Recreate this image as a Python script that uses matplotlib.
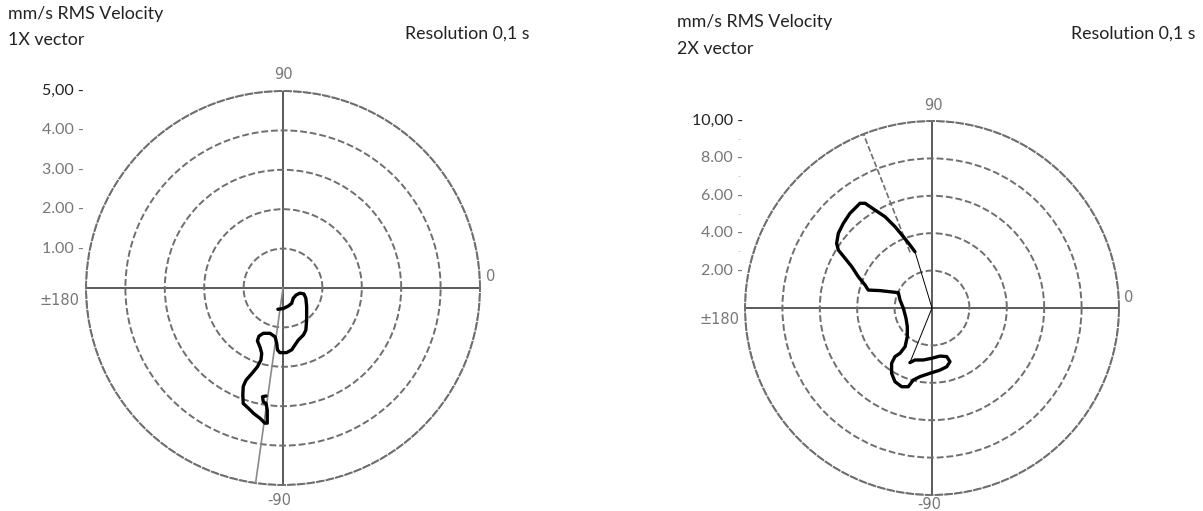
import numpy as np
import matplotlib
matplotlib.use("Agg")
import matplotlib.pyplot as plt

# ---------------- data ----------------
# 1X vector trace (mm/s), horizontal / vertical components (0 deg = right, 90 deg = up)
vec1_re = [-0.13, 0.01, 0.13, 0.22, 0.26, 0.33, 0.43, 0.53, 0.58, 0.60, 0.60, 0.58, 0.52,
           0.39, 0.30, 0.22, 0.09, -0.08, -0.14, -0.16, -0.20, -0.33, -0.50, -0.61, -0.65,
           -0.58, -0.54, -0.56, -0.65, -0.79, -0.94, -1.01, -1.02, -1.01, -0.88, -0.75,
           -0.58, -0.46, -0.40, -0.40, -0.40, -0.43, -0.50, -0.52, -0.43]
vec1_im = [-0.54, -0.52, -0.46, -0.39, -0.26, -0.18, -0.13, -0.15, -0.26, -0.47, -0.81, -1.07,
           -1.19, -1.32, -1.45, -1.57, -1.64, -1.64, -1.57, -1.40, -1.24, -1.15, -1.15, -1.22,
           -1.34, -1.51, -1.66, -1.83, -2.00, -2.17, -2.34, -2.50, -2.72, -2.93, -3.05, -3.18,
           -3.31, -3.43, -3.43, -3.27, -3.10, -2.93, -2.89, -2.76, -2.74]
vec1_marker_deg = -98.0

# 2X vector trace (mm/s)
vec2_re = [-0.91, -1.18, -1.53, -1.98, -2.51, -3.05, -3.58, -3.85, -4.12, -4.39, -4.74, -5.01,
           -5.10, -5.01, -4.65, -4.29, -3.94, -3.58, -3.41, -2.78, -2.25, -1.80, -1.71, -1.53,
           -1.39, -1.32, -1.32, -1.44, -1.71, -1.98, -2.16, -2.16, -1.98, -1.62, -1.27, -1.00,
           -0.64, -0.11, 0.43, 0.79, 0.96, 0.79, 0.43, -0.02, -0.47, -0.91, -1.18]
vec2_im = [3.01, 3.37, 3.81, 4.35, 4.88, 5.24, 5.60, 5.60, 5.33, 5.06, 4.53, 3.99, 3.46, 3.10,
           2.66, 2.21, 1.67, 1.23, 0.96, 0.93, 0.87, 0.82, 0.43, -0.02, -0.55, -1.00, -1.53,
           -2.07, -2.42, -2.60, -2.96, -3.49, -3.94, -4.21, -4.21, -3.85, -3.67, -3.49, -3.32,
           -3.14, -2.87, -2.60, -2.57, -2.69, -2.78, -2.78, -2.92]
vec2_marker_deg = 111.5

rmax1, rticks1 = 5.0, [1, 2, 3, 4, 5]
rlabels1 = ["1.00", "2.00", "3.00", "4.00", "5,00"]
rmax2, rticks2 = 10.0, [2, 4, 6, 8, 10]
rlabels2 = ["2.00", "4.00", "6.00", "8.00", "10,00"]
rminor2 = [3, 5, 7, 9]
angle_labels = ["0", "90", "\u00b1180", "-90"]

titles = [("mm/s RMS Velocity", "1X vector"), ("mm/s RMS Velocity", "2X vector")]
resolution = "Resolution 0,1 s"

# ---------------- figure ----------------
W, H = 1203, 511
fig = plt.figure(figsize=(W / 100, H / 100), dpi=100)
fig.patch.set_facecolor("white")
plt.rcParams["font.family"] = ["Lato", "DejaVu Sans"]

GRID = "#6e6e6e"
LBL = "#777777"


def make_polar(cx, cy, R, rmax, rticks):
    ax = fig.add_axes([(cx - R) / W, 1 - (cy + R) / H, 2 * R / W, 2 * R / H],
                      projection="polar")
    ax.set_ylim(0, rmax)
    ax.set_yticks(rticks)
    ax.set_yticklabels([])
    ax.set_thetagrids([0, 90, 180, 270], labels=["", "", "", ""])
    ax.xaxis.grid(True, color="#5a5a5a", lw=1.4, ls="-")
    ax.yaxis.grid(True, color=GRID, lw=1.4, ls=(0, (3.5, 1.5)))
    ax.spines["polar"].set_color(GRID)
    ax.spines["polar"].set_linewidth(1.4)
    ax.spines["polar"].set_linestyle((0, (3.5, 1.5)))
    ax.tick_params(length=0, pad=0)
    ax.set_facecolor("none")
    return ax


def angle_text(ax, dx, ybot):
    kw = dict(transform=ax.transAxes, color=LBL, fontsize=10.5, family="DejaVu Sans")
    ax.text(1.027, 0.528, angle_labels[0], ha="center", va="center", **kw)
    ax.text(0.5 + dx, 1.042, angle_labels[1], ha="center", va="center", **kw)
    ax.text(-0.068, 0.468, angle_labels[2], ha="center", va="center", **kw)
    ax.text(0.49 + dx, ybot, angle_labels[3], ha="center", va="center", **kw)


def ring_labels(ax, rmax, rticks, rlabels, minor=()):
    for r, lab in zip(rticks, rlabels):
        col = "#222222" if "," in lab else LBL
        ax.text(-0.006, 0.5 + 0.5 * r / rmax, lab + " -", transform=ax.transAxes,
                ha="right", va="center", fontsize=11.5, color=col)
    for r in minor:
        ax.text(-0.012, 0.5 + 0.5 * r / rmax, "-", transform=ax.transAxes,
                ha="right", va="center", fontsize=6, color="#aaaaaa")


# ---- left: 1X ----
ax1 = make_polar(283, 288, 197, rmax1, rticks1)
th = np.radians(vec1_marker_deg)
ax1.plot([th, th], [0, rmax1], color="#8a8a8a", lw=1.2, zorder=3)
t1 = np.arctan2(vec1_im, vec1_re)
r1 = np.hypot(vec1_re, vec1_im)
ax1.plot(t1, r1, color="black", lw=2.4, solid_joinstyle="round", solid_capstyle="round",
         zorder=5)
ring_labels(ax1, rmax1, rticks1, rlabels1)
angle_text(ax1, 0.0, -0.04)

# ---- right: 2X ----
ax2 = make_polar(932, 308, 187, rmax2, rticks2)
th2 = np.radians(vec2_marker_deg)
ax2.plot([th2, th2], [3.2, rmax2], color="#6e6e6e", lw=1.2, ls=(0, (3.5, 1.5)), zorder=3)
t2 = np.arctan2(vec2_im, vec2_re)
r2 = np.hypot(vec2_re, vec2_im)
ax2.plot([t2[0], t2[0]], [0, r2[0]], color="black", lw=0.7, zorder=4)
ax2.plot([t2[-1], t2[-1]], [0, r2[-1]], color="black", lw=0.7, zorder=4)
ax2.plot(t2, r2, color="black", lw=2.4, solid_joinstyle="round", solid_capstyle="round",
         zorder=5)
ring_labels(ax2, rmax2, rticks2, rlabels2, rminor2)
angle_text(ax2, 0.003, -0.026)

# ---- headings ----
TXT = "#222222"
fs = 12.8
fig.text(8 / W, 1 - 14 / H, titles[0][0], ha="left", va="center", fontsize=fs, color=TXT)
fig.text(8 / W, 1 - 40 / H, titles[0][1], ha="left", va="center", fontsize=fs, color=TXT)
fig.text(405 / W, 1 - 34 / H, resolution, ha="left", va="center", fontsize=fs, color=TXT)
fig.text(677 / W, 1 - 22 / H, titles[1][0], ha="left", va="center", fontsize=fs, color=TXT)
fig.text(677 / W, 1 - 49 / H, titles[1][1], ha="left", va="center", fontsize=fs, color=TXT)
fig.text(1071 / W, 1 - 34 / H, resolution, ha="left", va="center", fontsize=fs, color=TXT)

fig.savefig("out.png", dpi=100, facecolor="white")
